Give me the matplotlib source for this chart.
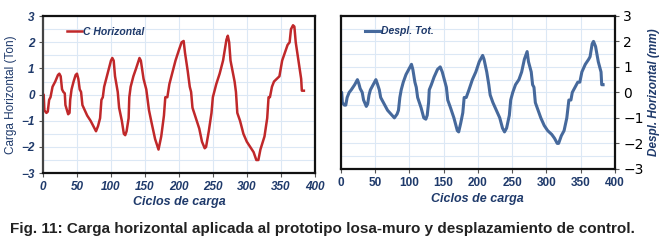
import numpy as np
import matplotlib.pyplot as plt
from matplotlib.ticker import MultipleLocator

# Carga horizontal (Ton) vs ciclos
ciclos_c = [0, 1, 2, 5, 7, 9, 11, 14, 18, 22, 24, 26, 28, 30, 32, 33, 37, 39, 40, 42, 45, 48, 50,
            52, 54, 56, 58, 65, 70, 76, 78, 81, 84, 86, 88, 90, 95, 100, 102, 104, 106, 110, 112,
            116, 119, 121, 123, 126, 127, 129, 133, 137, 142, 144, 148, 152, 154, 156, 160, 165,
            170, 174, 178, 180, 183, 186, 190, 195, 200, 204, 207, 209, 213, 216, 218, 220, 225,
            230, 234, 238, 240, 244, 248, 250, 252, 255, 260, 265, 270, 272, 274, 276, 279, 282,
            284, 286, 290, 295, 300, 305, 310, 314, 317, 320, 326, 330, 332, 334, 337, 340, 344,
            348, 352, 356, 360, 363, 365, 368, 370, 372, 376, 380, 381, 384]
carga = [0, 0, -0.6, -0.7, -0.65, -0.2, -0.1, 0.3, 0.5, 0.75, 0.8, 0.7, 0.2, 0.1, 0.05, -0.4,
         -0.75, -0.7, -0.2, 0.2, 0.5, 0.75, 0.8, 0.6, 0.2, 0.1, -0.4, -0.8, -1.0, -1.3, -1.4,
         -1.2, -0.9, -0.2, -0.1, 0.3, 0.8, 1.3, 1.4, 1.3, 0.7, 0.1, -0.5, -1.0, -1.5, -1.55,
         -1.4, -0.9, -0.1, 0.3, 0.7, 1.0, 1.4, 1.3, 0.6, 0.2, -0.2, -0.6, -1.1, -1.7, -2.1,
         -1.6, -0.8, -0.1, -0.1, 0.4, 0.8, 1.3, 1.7, 2.0, 2.05, 1.6, 0.9, 0.3, 0.1, -0.5, -0.9,
         -1.3, -1.8, -2.05, -2.0, -1.4, -0.7, -0.1, 0.1, 0.4, 0.8, 1.3, 2.1, 2.25, 2.0, 1.3,
         0.9, 0.5, 0.1, -0.7, -1.0, -1.5, -1.8, -2.0, -2.2, -2.5, -2.5, -2.1, -1.6, -0.9, -0.1,
         -0.1, 0.3, 0.5, 0.6, 0.7, 1.3, 1.6, 1.9, 2.0, 2.5, 2.65, 2.6, 2.0, 1.3, 0.6, 0.15, 0.15]

# Desplazamiento total (mm) vs ciclos
ciclos_d = [0, 1, 2, 5, 7, 9, 12, 15, 20, 24, 26, 28, 31, 33, 37, 39, 41, 43, 47, 51, 53, 56, 58,
            63, 68, 73, 78, 82, 84, 86, 88, 91, 95, 100, 103, 105, 108, 110, 112, 117, 121, 124,
            126, 128, 129, 132, 136, 141, 145, 148, 152, 154, 156, 160, 165, 170, 172, 175, 178,
            180, 183, 187, 192, 197, 202, 207, 209, 213, 216, 218, 222, 227, 232, 236, 239, 242,
            246, 248, 251, 255, 260, 264, 268, 272, 274, 278, 280, 282, 284, 288, 292, 297, 302,
            308, 312, 316, 318, 322, 326, 330, 333, 336, 338, 342, 346, 349, 352, 357, 362, 364,
            367, 369, 372, 376, 380, 381, 383]
despl = [0, 0, -0.4, -0.5, -0.5, -0.2, 0.0, 0.1, 0.3, 0.5, 0.35, 0.15, 0.0, -0.3, -0.55, -0.45,
         -0.1, 0.1, 0.3, 0.5, 0.35, 0.1, -0.2, -0.45, -0.7, -0.85, -1.0, -0.85, -0.7, -0.2, 0.1,
         0.4, 0.7, 0.95, 1.1, 0.9, 0.4, 0.2, -0.2, -0.6, -1.0, -1.05, -0.9, -0.4, 0.1, 0.3, 0.6,
         0.9, 1.0, 0.8, 0.4, 0.2, -0.3, -0.6, -1.0, -1.5, -1.55, -1.2, -0.8, -0.2, -0.2, 0.1,
         0.5, 0.8, 1.2, 1.45, 1.3, 0.8, 0.3, -0.1, -0.4, -0.7, -1.0, -1.4, -1.55, -1.4, -0.9,
         -0.3, 0.0, 0.3, 0.5, 0.8, 1.3, 1.6, 1.2, 0.8, 0.3, 0.2, -0.4, -0.7, -1.0, -1.3, -1.5,
         -1.65, -1.8, -2.0, -2.0, -1.7, -1.5, -1.0, -0.3, -0.3, 0.0, 0.2, 0.4, 0.4, 0.8, 1.1,
         1.3, 1.4, 1.9, 2.0, 1.8, 1.2, 0.8, 0.3, 0.3]

navy = '#1f3a6b'
grid_c = '#dce8f5'

fig = plt.figure(figsize=(6.66, 2.48), dpi=100)
ax1 = fig.add_axes([0.0646, 0.302, 0.408, 0.633])
ax2 = fig.add_axes([0.512, 0.319, 0.411, 0.617])


def style(ax, italic_ticks):
    ax.set_xlim(0, 400)
    ax.set_ylim(-3, 3)
    ax.xaxis.set_major_locator(MultipleLocator(50))
    ax.yaxis.set_major_locator(MultipleLocator(1))
    ax.yaxis.set_minor_locator(MultipleLocator(0.5))
    ax.grid(True, which='both', color=grid_c, lw=0.8)
    ax.set_axisbelow(True)
    for s in ax.spines.values():
        s.set_linewidth(1.6)
        s.set_color('#111111')
    ax.tick_params(which='minor', length=0)
    ax.tick_params(which='major', length=3, width=0.8, color='#555555', pad=3)
    for lab in ax.get_xticklabels() + ax.get_yticklabels():
        lab.set_fontsize(8.5)
        lab.set_fontweight('bold')
        lab.set_color(navy)
        lab.set_family('Liberation Sans')
        if italic_ticks:
            lab.set_fontstyle('italic')


ax1.plot(ciclos_c, carga, color='#c0282a', lw=1.8, label='C Horizontal')
style(ax1, True)
ax1.spines['left'].set_color('#444444')
ax1.set_xlabel('Ciclos de carga', fontsize=9, style='italic', fontweight='bold',
               color=navy, labelpad=2, family='Liberation Sans')
ax1.set_ylabel('Carga Horizontal (Ton)', fontsize=8.5, color=navy, labelpad=3,
               family='Liberation Sans')
leg1 = ax1.legend(loc='upper left', frameon=False, handlelength=1.4, handletextpad=0.1,
                  borderaxespad=0.6, bbox_to_anchor=(0.05, 1.0),
                  prop={'size': 7.5, 'style': 'italic', 'weight': 'bold',
                        'family': 'Liberation Sans'})
for t in leg1.get_texts():
    t.set_color(navy)

ax2.plot(ciclos_d, despl, color='#46699c', lw=2.2, label='Despl. Tot.')
style(ax2, False)
ax2.yaxis.tick_right()
ax2.yaxis.set_label_position('right')
ax2.set_xlabel('Ciclos de carga', fontsize=9, style='italic', fontweight='bold',
               color=navy, labelpad=3, family='Liberation Sans')
ax2.set_ylabel('Despl. Horizontal (mm)', fontsize=8.5, style='italic', fontweight='bold',
               color=navy, labelpad=3, family='Liberation Sans')
leg2 = ax2.legend(loc='upper left', frameon=False, handlelength=1.4, handletextpad=0.1,
                  borderaxespad=0.6, bbox_to_anchor=(0.05, 1.0),
                  prop={'size': 7.5, 'style': 'italic', 'weight': 'bold',
                        'family': 'Liberation Sans'})
for t in leg2.get_texts():
    t.set_color(navy)

fig.text(0.015, 0.06, 'Fig. 11: Carga horizontal aplicada al prototipo losa-muro y desplazamiento de control.',
         fontsize=11, fontweight='bold', color='#222222', family='Liberation Sans')

fig.savefig('out.png', dpi=100)
